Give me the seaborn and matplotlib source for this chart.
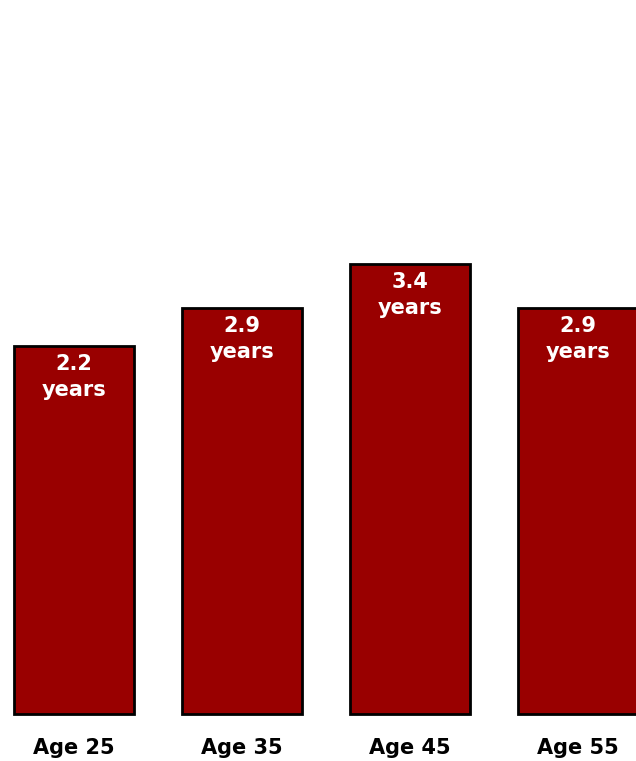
import pandas as pd
import seaborn as sns
import matplotlib.pyplot as plt

# categories and the values printed on the bars
ages = ['Age 25', 'Age 35', 'Age 45', 'Age 55']
years = [2.2, 2.9, 3.4, 2.9]
# bar heights as drawn in the picture (not proportional to the labels)
bar_height = [3.68, 4.06, 4.50, 4.06]

df = pd.DataFrame({'age': ages, 'height': bar_height, 'years': years})

sns.set_style('white')
plt.rcParams['font.family'] = ['DejaVu Sans']

fig = plt.figure(figsize=(6.36, 7.61), dpi=100)
ax = fig.add_axes([0, 47 / 761, 1, 714 / 761])

sns.barplot(data=df, x='age', y='height', color='#990000', saturation=1,
            edgecolor='black', linewidth=2, width=0.71, ax=ax)
for p in ax.patches:
    p.set_clip_on(False)

for i, row in df.iterrows():
    ax.annotate(f"{row['years']}\nyears", xy=(i, row['height']),
                xytext=(0, -8), textcoords='offset pixels',
                ha='center', va='top', color='white', fontsize=15,
                fontweight='bold', linespacing=1.35)

ax.set_xlim(-74 / 168, (636 - 74) / 168)
ax.set_ylim(0, 7.14)
ax.set_xlabel('')
ax.set_ylabel('')
ax.set_yticks([])
ax.tick_params(axis='x', length=0, pad=17)
for lbl in ax.get_xticklabels():
    lbl.set_fontsize(15)
    lbl.set_fontweight('bold')
    lbl.set_color('black')
sns.despine(ax=ax, left=True, bottom=True)

fig.savefig('out.png', dpi=100)
